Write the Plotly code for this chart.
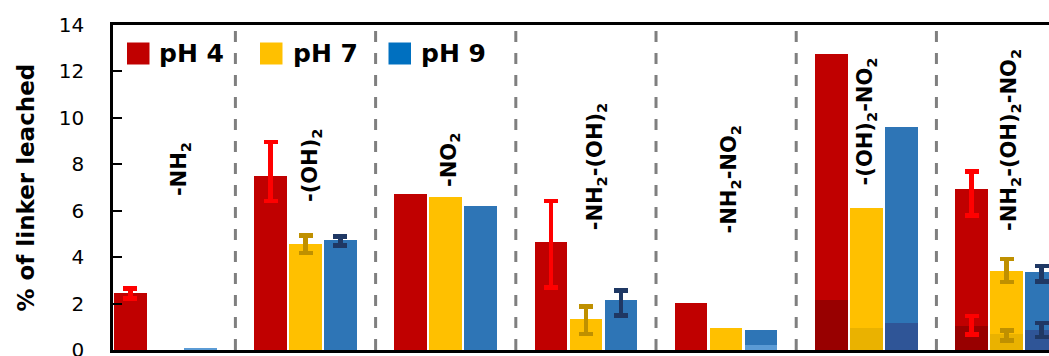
import plotly.graph_objects as go

# ---- data -------------------------------------------------------------
categories = [
    "-NH<sub>2</sub>",
    "-(OH)<sub>2</sub>",
    "-NO<sub>2</sub>",
    "-NH<sub>2</sub>-(OH)<sub>2</sub>",
    "-NH<sub>2</sub>-NO<sub>2</sub>",
    "-(OH)<sub>2</sub>-NO<sub>2</sub>",
    "-NH<sub>2</sub>-(OH)<sub>2</sub>-NO<sub>2</sub>",
]
series_names = ["pH 4", "pH 7", "pH 9"]

# total % of linker leached
ph4 = [2.45, 7.50, 6.72, 4.65, 2.01, 12.75, 6.94]
ph7 = [0.00, 4.57, 6.59, 1.34, 0.93, 6.12, 3.40]
ph9 = [0.10, 4.74, 6.20, 2.15, 0.86, 9.61, 3.36]

# error bars of the totals (None = no error bar)
ph4_err_plus = [0.21, 1.45, None, 1.76, None, None, 0.76]
ph4_err_minus = [0.24, 1.09, None, 1.95, None, None, 1.14]
ph7_err_plus = [None, 0.37, None, 0.54, None, None, 0.51]
ph7_err_minus = [None, 0.40, None, 0.66, None, None, 0.48]
ph9_err_plus = [None, 0.15, None, 0.42, None, None, 0.26]
ph9_err_minus = [None, 0.23, None, 0.66, None, None, 0.40]

# lower (shaded) portion of each bar
ph4_low = [0, 0, 0, 0, 0, 2.15, 1.03]
ph7_low = [0, 0, 0, 0, 0, 0.95, 0.69]
ph9_low = [0.10, 0, 0, 0, 0.215, 1.16, 0.86]

ph4_low_err_plus = [None, None, None, None, None, None, 0.43]
ph4_low_err_minus = [None, None, None, None, None, None, 0.36]
ph7_low_err_plus = [None, None, None, None, None, None, 0.15]
ph7_low_err_minus = [None, None, None, None, None, None, 0.27]
ph9_low_err_plus = [None, None, None, None, None, None, 0.31]
ph9_low_err_minus = [None, None, None, None, None, None, 0.31]

y_ticks = [0, 2, 4, 6, 8, 10, 12, 14]

# ---- styling ----------------------------------------------------------
W, H = 1049, 356
M_L, M_R, M_T, M_B = 113, 0, 25, 6
PLOT_W = W - M_L - M_R
PLOT_H = H - M_T - M_B

BAR_COLORS = ["#C00000", "#FFC000", "#2E75B6"]
LEGEND_COLORS = ["#C00000", "#FFC000", "#0070C0"]
LOW_COLORS = [
    ["#980000"] * 7,
    ["#EAB200"] * 7,
    ["#5B9BD5", "#2F5597", "#2F5597", "#2F5597", "#5B9BD5", "#2F5597", "#2F5597"],
]
ERR_COLORS = ["#FF0000", "#BF9000", "#1F3864"]

PITCH = 0.2496
BAR_W = 0.232
X_RANGE = [-0.373, 6.303]

FONT = "DejaVu Sans"


def paper_x(px):
    return (px - M_L) / PLOT_W


def paper_y(py):
    return (H - M_B - py) / PLOT_H


totals = [ph4, ph7, ph9]
lows = [ph4_low, ph7_low, ph9_low]
err_plus = [ph4_err_plus, ph7_err_plus, ph9_err_plus]
err_minus = [ph4_err_minus, ph7_err_minus, ph9_err_minus]
low_err_plus = [ph4_low_err_plus, ph7_low_err_plus, ph9_low_err_plus]
low_err_minus = [ph4_low_err_minus, ph7_low_err_minus, ph9_low_err_minus]

x_idx = list(range(len(categories)))
fig = go.Figure()

for k in range(3):
    off = (k - 1) * PITCH - BAR_W / 2
    fig.add_trace(go.Bar(
        x=x_idx, y=totals[k], offset=off, width=BAR_W,
        marker=dict(color=BAR_COLORS[k], line=dict(width=0)),
        name=series_names[k], showlegend=False,
    ))
    fig.add_trace(go.Bar(
        x=x_idx, y=lows[k], offset=off, width=BAR_W,
        marker=dict(color=LOW_COLORS[k], line=dict(width=0)),
        showlegend=False,
    ))


def add_error_trace(k, values, plus, minus):
    off = (k - 1) * PITCH - BAR_W / 2
    idx = [i for i in x_idx if plus[i] is not None]
    if not idx:
        return
    fig.add_trace(go.Bar(
        x=idx, y=[values[i] for i in idx], offset=off, width=BAR_W,
        marker=dict(color="rgba(0,0,0,0)", line=dict(width=0)),
        error_y=dict(
            type="data", symmetric=False,
            array=[plus[i] for i in idx],
            arrayminus=[minus[i] for i in idx],
            color=ERR_COLORS[k], thickness=4.5, width=7,
        ),
        showlegend=False, hoverinfo="skip",
    ))


for k in range(3):
    add_error_trace(k, totals[k], err_plus[k], err_minus[k])
    add_error_trace(k, lows[k], low_err_plus[k], low_err_minus[k])

# dashed separators between the linker groups
shapes = []
for i in range(len(categories) - 1):
    shapes.append(dict(
        type="line", xref="x", yref="paper",
        x0=i + 0.5, x1=i + 0.5, y0=0, y1=0.995,
        line=dict(color="#7F7F7F", width=3, dash="11px,11px"),
    ))

# legend: coloured squares with bold labels
legend_sq_x = [127, 260, 388.5]
legend_txt_x = [157, 290.5, 418.5]
annotations = []
for k in range(3):
    shapes.append(dict(
        type="rect", xref="paper", yref="paper",
        x0=paper_x(legend_sq_x[k]), x1=paper_x(legend_sq_x[k] + 22.5),
        y0=paper_y(64.5), y1=paper_y(42.5),
        fillcolor=LEGEND_COLORS[k], line=dict(width=0),
    ))
    annotations.append(dict(
        xref="paper", yref="paper",
        x=paper_x(legend_txt_x[k]), y=paper_y(53.5),
        xanchor="left", yanchor="middle",
        text="<b>%s</b>" % series_names[k], showarrow=False,
        font=dict(family=FONT, size=25, color="black"),
    ))

# vertical linker labels inside each group
label_dx = [0.11, 0.04, 0.03, 0.07, 0.03, 0.0, 0.025]
label_y = [7.78, 7.97, 8.18, 7.90, 7.36, 9.86, 9.05]
for i, lab in enumerate(categories):
    annotations.append(dict(
        xref="x", yref="y", x=i + label_dx[i], y=label_y[i],
        xanchor="center", yanchor="middle",
        text="<b>%s</b>" % lab, textangle=-90, showarrow=False,
        font=dict(family=FONT, size=21, color="black"),
    ))

# y-axis title
annotations.append(dict(
    xref="paper", yref="paper", x=paper_x(25), y=0.5,
    xanchor="center", yanchor="middle",
    text="<b>% of linker leached</b>", textangle=-90, showarrow=False,
    font=dict(family=FONT, size=23, color="black"),
))

fig.update_layout(
    width=W, height=H,
    margin=dict(l=M_L, r=M_R, t=M_T, b=M_B, pad=0, autoexpand=False),
    paper_bgcolor="white", plot_bgcolor="white",
    barmode="overlay", bargap=0,
    showlegend=False,
    shapes=shapes, annotations=annotations,
    xaxis=dict(
        range=X_RANGE, showgrid=False, zeroline=False, automargin=False,
        showticklabels=False, ticks="",
        showline=True, linecolor="black", linewidth=2.5, mirror=True,
    ),
    yaxis=dict(
        range=[0, 14], tickvals=y_ticks, showgrid=False, zeroline=False,
        automargin=False,
        ticks="inside", ticklen=9, tickwidth=2, tickcolor="black",
        showline=True, linecolor="black", linewidth=2.5,
        tickfont=dict(family=FONT, size=20, color="black"),
        ticklabelstandoff=22, ticklabeloverflow="allow",
    ),
)

fig.write_html("out.html")
